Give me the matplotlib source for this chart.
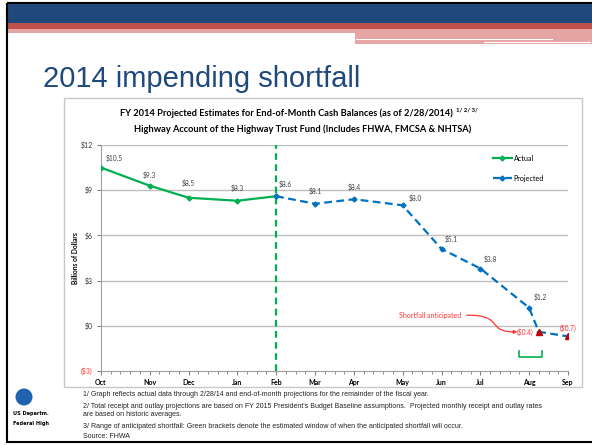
import numpy as np
import matplotlib
matplotlib.use('Agg')
import matplotlib.pyplot as plt
from matplotlib.patches import Rectangle, Circle, FancyArrowPatch
from matplotlib.path import Path

# data (x in weeks from start of Oct 2013)
months = ['Oct', 'Nov', 'Dec', 'Jan', 'Feb', 'Mar', 'Apr', 'May', 'Jun', 'Jul', 'Aug', 'Sep']
month_weeks = [0, 5, 9, 14, 18, 22, 26, 31, 35, 39, 44, 48]

actual_weeks = [0, 5, 9, 14, 18]
actual_vals = [10.5, 9.3, 8.5, 8.3, 8.6]

proj_weeks = [18, 22, 26, 31, 35, 39, 44, 45, 48]
proj_vals = [8.6, 8.1, 8.4, 8.0, 5.1, 3.8, 1.2, -0.4, -0.7]

short_weeks = [45, 48]
short_vals = [-0.4, -0.7]
short_labels = ['($0.4)', '($0.7)']

yticks = [-3, 0, 3, 6, 9, 12]
ytick_labels = ['($3)', '$0', '$3', '$6', '$9', '$12']

cur_week = 18          # actual data through Feb
window = (43, 45.3)    # green bracket: anticipated shortfall window

footnotes = [
    "1/ Graph reflects actual data through 2/28/14 and end-of-month projections for the remainder of the fiscal year.",
    "2/ Total receipt and outlay projections are based on FY 2015 President's Budget Baseline assumptions.  Projected monthly receipt and outlay rates",
    "are based on historic averages.",
    "3/ Range of anticipated shortfall: Green brackets denote the estimated window of when the anticipated shortfall will occur.",
    "Source: FHWA",
]

W, H = 592, 445
fig = plt.figure(figsize=(W / 100, H / 100), dpi=100)
fig.patch.set_facecolor('white')

# slide background / decorations in pixel coords
bg = fig.add_axes([0, 0, 1, 1])
bg.set_xlim(0, W)
bg.set_ylim(H, 0)
bg.axis('off')

bg.add_patch(Rectangle((6, 4), 586, 19, color='#1F497D', lw=0))
bg.add_patch(Rectangle((6, 23), 586, 6, color='#C0504D', lw=0))
bg.add_patch(Rectangle((6, 29), 586, 4, color='#E6A5A3', lw=0))
bg.add_patch(Rectangle((355, 33), 237, 11, color='#E6A5A3', lw=0))
bg.plot([356, 552], [39, 39], color='white', lw=0.8)
bg.plot([484, 590], [42, 42], color='white', lw=0.8)
bg.add_patch(Rectangle((6.5, 3), 590, 439, fill=False, ec='black', lw=1.5))

bg.text(43, 87, '2014 impending shortfall', fontsize=21, color='#1F497D',
        family='Liberation Sans', va='baseline', ha='left')

# chart frame
bg.add_patch(Rectangle((64, 98), 518, 289, fill=False, ec='#C8C8C8', lw=1))
bg.text(286, 113, 'FY 2014 Projected Estimates for End-of-Month Cash Balances (as of 2/28/2014)',
        fontsize=6.7, fontweight='bold', family='Lato', ha='center', va='center')
bg.text(456, 110, '1/ 2/ 3/', fontsize=4.3, fontweight='bold', family='Lato', ha='left', va='center')
bg.text(303, 129, 'Highway Account of the Highway Trust Fund (Includes FHWA, FMCSA & NHTSA)',
        fontsize=6.7, fontweight='bold', family='Lato', ha='center', va='center')

# footnotes
fy = [394, 406, 414.5, 426, 437]
for t, y in zip(footnotes, fy):
    bg.text(83, y, t, fontsize=5.0, family='Liberation Sans', va='center', ha='left', color='#222222')

# logo
bg.add_patch(Circle((24, 397), 8.5, color='#1E62B0', lw=0))
bg.text(13, 413, 'US Departm.', fontsize=3.6, fontweight='bold', va='center', ha='left')
bg.text(13, 424, 'Federal High', fontsize=3.6, fontweight='bold', va='center', ha='left')

# chart axes
ax = fig.add_axes([101 / W, 1 - 371 / H, 467 / W, 226 / H])
ax.set_xlim(0, 48)
ax.set_ylim(-3, 12)
for y in yticks[1:]:
    ax.axhline(y, color='#BFBFBF', lw=1, zorder=0)
for s in ['top', 'right']:
    ax.spines[s].set_visible(False)
ax.spines['left'].set_color('#A0A0A0')
ax.spines['bottom'].set_color('#A0A0A0')
ax.spines['left'].set_linewidth(0.8)
ax.spines['bottom'].set_linewidth(0.8)

ax.set_yticks(yticks)
ax.set_yticklabels(ytick_labels, fontsize=5, family='Lato', color='#333333')
ax.get_yticklabels()[0].set_color('#FF3333')
ax.set_xticks(month_weeks)
ax.set_xticklabels(months, fontsize=5, family='Lato', fontweight='bold')
ax.set_xticks(np.arange(0, 49), minor=True)
ax.tick_params(axis='both', which='major', length=3, color='#808080', pad=3)
ax.tick_params(axis='x', which='minor', length=2, color='#808080')
ax.set_ylabel('Billions of Dollars', fontsize=4.8, fontweight='bold', family='Lato', labelpad=1)

ax.axvline(cur_week, color='#00B050', lw=1.6, ls=(0, (3, 2)), zorder=2)

ax.plot(actual_weeks, actual_vals, color='#00B050', lw=1.6, marker='D', ms=2.5,
        label='Actual', zorder=3)
ax.plot(proj_weeks, proj_vals, color='#0070C0', lw=1.6, ls=(0, (3.5, 2)), marker='D', ms=2.5,
        label='Projected', zorder=3)
ax.plot(short_weeks, short_vals, ls='none', marker='^', ms=5, color='#C00000', zorder=4)

# value labels
lab_off = [(3, 4, 'left'), (0, 5, 'center'), (0, 8, 'center'), (0, 6, 'center'), (2, 6, 'left'),
           (0, 6, 'center'), (0, 6, 'center'), (4, 2, 'left'), (2, 4, 'left'), (2, 4, 'left'), (3, 5, 'left')]
all_w = actual_weeks + proj_weeks[1:7]
all_v = actual_vals + proj_vals[1:7]
for w, v, (dx, dy, ha) in zip(all_w, all_v, lab_off):
    ax.annotate('$%.1f' % v, (w, v), xytext=(dx, dy), textcoords='offset points',
                fontsize=4.8, family='Lato', color='#404040', ha=ha, va='bottom')

ax.annotate(short_labels[0], (short_weeks[0], short_vals[0]), xytext=(-4, 0), textcoords='offset points',
            fontsize=4.8, family='Lato', color='#FF3333', ha='right', va='center')
ax.annotate(short_labels[1], (short_weeks[1], short_vals[1]), xytext=(0, 3), textcoords='offset points',
            fontsize=4.8, family='Lato', color='#FF3333', ha='center', va='bottom')

ax.text(33.8, 0.66, 'Shortfall anticipated', fontsize=5, family='Lato', color='#FF3333',
        ha='center', va='center')
curve = Path([(37.6, 0.7), (41.5, 0.75), (39.5, -0.45), (42.8, -0.4)],
             [Path.MOVETO, Path.CURVE4, Path.CURVE4, Path.CURVE4])
ax.add_patch(FancyArrowPatch(path=curve, arrowstyle='-|>', mutation_scale=5, color='#FF3333', lw=0.9))

ax.plot([window[0], window[0], window[1], window[1]], [-1.65, -2.1, -2.1, -1.65],
        color='#00B050', lw=1.2)

ax.legend(loc='upper left', bbox_to_anchor=(0.825, 0.985), frameon=False,
          prop={'family': 'Lato', 'size': 5.2}, handlelength=2.6, labelspacing=1.8, handletextpad=0.3)

fig.savefig('out.png', dpi=100)
